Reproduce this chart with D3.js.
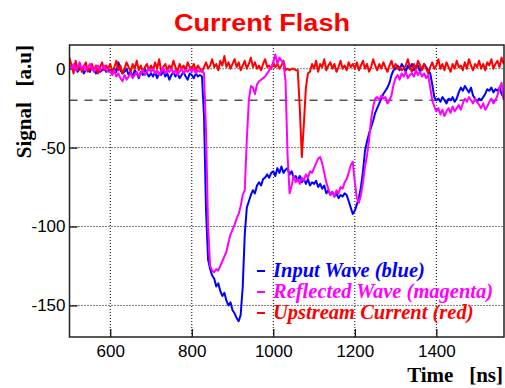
<!DOCTYPE html>
<html>
<head>
<meta charset="utf-8">
<script src="https://cdn.jsdelivr.net/npm/d3@7"></script>
<style>
  body { margin: 0; background: #fff; }
  svg { display: block; }
</style>
</head>
<body>
<div id="chart"></div>
<script>
// sampling of the scope traces (ns)
const tStart = 500, tStep = 5;

const inputWave = [
  0, 2, -1, 1, -2, 0, 1, -3, -1, 0, -2, 1, -1, -3, 0, -2, -1, 1, -2, -1,
  -1, -3, 0, -2, 4, -1, -3, -2, 0, -4, -2, -5, -1, -3, -6, -2, -4, 0, -3, -5,
  -3, -5, -2, -6, -3, -4, -1, -5, -3, -7, -4, -2, -5, -3, -6, -4, -2, -5, -7, -3,
  -4, -6, -3, -5, -4, -5, -30, -90, -121, -127, -131, -133, -138, -136, -141, -144, -142, -147, -150, -148,
  -153, -155, -158, -160, -156, -138, -105, -88, -84, -80, -77, -79, -74, -72, -74, -70, -69, -67, -69, -66,
  -65, -68, -63, -66, -62, -66, -64, -63, -67, -65, -69, -68, -71, -68, -72, -70, -73, -70, -74, -72,
  -73, -71, -75, -73, -76, -74, -79, -77, -80, -78, -81, -79, -82, -80, -81, -79, -80, -84, -88, -92,
  -90, -86, -82, -75, -65, -52, -46, -41, -37, -33, -28, -25, -22, -19, -16, -14, -12, -9, -4, -1,
  0, 2, -1, 3, 1, -2, 2, 0, 3, -1, 1, 2, -2, 0, 3, 1, -1, -3, -10, -18,
  -20, -19, -21, -18, -20, -22, -19, -20, -18, -21, -19, -15, -12, -14, -11, -13, -15, -12, -17, -19,
  -21, -19, -20, -18, -16, -13, -14, -12, -15, -13, -14, -12, -16, -18
];

const reflectedWave = [
  2, 0, 3, -1, 1, 4, 0, 2, -1, 1, 3, 0, -2, 1, 2, -1, 0, 2, -1, -2,
  -2, -4, -1, -5, -3, -6, -8, -4, -7, -5, -3, -6, -4, -2, -5, -3, -1, -4, -2, 0,
  -2, 0, -3, -1, -4, -2, 1, -3, -1, -2, 0, -3, -1, -4, -2, 0, -3, -1, -2, 0,
  -2, 0, -3, -1, -2, -1, -3, -40, -100, -125, -128, -129, -127, -128, -125, -122, -119, -116, -110, -105,
  -102, -99, -95, -92, -87, -80, -77, -45, -20, -11, -12, -16, -10, -8, -7, -6, -5, -3, -1, 1,
  4, 9, 3, 7, 5, 4, -8, -55, -79, -74, -68, -72, -70, -73, -69, -71, -67, -69, -65, -66,
  -63, -60, -57, -56, -60, -66, -72, -76, -80, -78, -81, -77, -79, -75, -76, -72, -70, -66, -61, -59,
  -72, -82, -85, -80, -72, -62, -55, -45, -32, -24, -19, -18, -20, -17, -19, -18, -22, -20, -17, -10,
  -6, -4, -7, -3, -5, -2, -6, -4, -3, -5, -1, -4, -2, -5, -3, -6, -4, -12, -20, -24,
  -27, -25, -29, -26, -30, -27, -25, -28, -24, -27, -25, -23, -26, -22, -19, -21, -18, -20, -22, -19,
  -21, -23, -25, -22, -26, -24, -21, -19, -22, -20, -17, -12, -9, -20
];

const upstreamCurrent = [
  7, 2, -3, 5, -1, 3, -2, 1, 4, -2, 0, 3, -1, 2, -3, 1, 4, -1, 2, 0,
  3, -2, 1, 5, -1, 2, -3, 0, 4, 1, -2, 3, 0, 5, -1, 2, -2, 1, 3, -1,
  2, -1, 4, 0, 6, -2, 1, 3, -1, 2, 0, 5, 1, -2, 3, 0, 2, -1, 4, 1,
  0, 3, -1, 2, 0, -2, 1, 4, 0, 2, 6, 1, 3, -1, 5, 2, 8, 1, 4, 0,
  3, 6, 1, 4, -1, 2, 5, 0, 3, 7, 1, 4, 0, 2, -1, 3, 6, 1, 2, 0,
  4, 1, 3, 0, 2, 5, -1, 0, -1, 0, 0, -1, -1, -25, -56, -35, -12, -3, -2, 3,
  0, 5, -2, 3, 1, 6, -1, 2, 4, 0, 3, -2, 1, 5, 0, 2, -1, 4, 1, 3,
  0, 4, -1, 2, 5, 0, 3, -2, 1, 6, 2, -1, 3, 0, 4, 1, -2, 2, 5, 0,
  3, 0, 1, -1, 0, 2, 6, 1, -2, 3, 0, 5, 2, -1, 3, 0, -3, 1, 4, 0,
  2, 6, 0, 3, -1, 4, 1, -2, 3, 0, 5, 1, 2, -1, 4, 0, 6, 2, -1, 3,
  1, 5, 0, 3, -1, 4, 2, 6, 0, 3, 5, 1, 7, 3
];

const xTicks = [600, 800, 1000, 1200, 1400];
const yTicks = [0, -50, -100, -150];
const threshold = -20;
const seriesNames = ["Input Wave (blue)", "Reflected Wave (magenta)", "Upstream Current (red)"];
const seriesColors = ["#0000ff", "#ff00ff", "#ff0000"];

const width = 505, height = 388;
const margin = {top: 45, right: 1, bottom: 51, left: 69.5};
const innerW = width - margin.left - margin.right;
const innerH = height - margin.top - margin.bottom;

const svg = d3.select("#chart").append("svg")
  .attr("width", width)
  .attr("height", height);

const g = svg.append("g")
  .attr("transform", "translate(" + margin.left + "," + margin.top + ")");

const x = d3.scaleLinear().domain([500, 1566]).range([0, innerW]);
const y = d3.scaleLinear().domain([-170, 15]).range([innerH, 0]);

// dotted grid
g.selectAll(".gx").data(xTicks).enter().append("line")
  .attr("x1", d => x(d)).attr("x2", d => x(d))
  .attr("y1", 0).attr("y2", innerH)
  .attr("stroke", "#000").attr("stroke-width", 1)
  .attr("stroke-dasharray", "1,2");
g.selectAll(".gy").data(yTicks).enter().append("line")
  .attr("x1", 0).attr("x2", innerW)
  .attr("y1", d => y(d)).attr("y2", d => y(d))
  .attr("stroke", "#000").attr("stroke-width", 1)
  .attr("stroke-dasharray", "1,2");

// axes, ticks pointing inside, plain hyphen minus
const fmt = d => String(d);
const xAxis = g.append("g")
  .attr("transform", "translate(0," + innerH + ")")
  .call(d3.axisBottom(x).tickValues(xTicks).tickFormat(fmt).tickSize(-8).tickPadding(8));
const yAxis = g.append("g")
  .call(d3.axisLeft(y).tickValues(yTicks).tickFormat(fmt).tickSize(-8).tickPadding(4));

[xAxis, yAxis].forEach(a => {
  a.select(".domain").remove();
  a.selectAll(".tick line").attr("stroke", "#000").attr("stroke-width", 1.2);
  a.selectAll("text")
    .attr("fill", "#000")
    .style("font-family", "'Liberation Sans', Arial, sans-serif")
    .style("font-size", "17px");
});

// threshold line
g.append("line")
  .attr("x1", 0).attr("x2", innerW)
  .attr("y1", y(threshold)).attr("y2", y(threshold))
  .attr("stroke", "#555").attr("stroke-width", 1.6)
  .attr("stroke-dasharray", "8,7");

g.append("clipPath").attr("id", "clip")
  .append("rect").attr("width", innerW).attr("height", innerH);

const line = d3.line()
  .x((d, i) => x(tStart + i * tStep))
  .y(d => y(d));

const series = [inputWave, upstreamCurrent, reflectedWave];
const colors = [seriesColors[0], seriesColors[2], seriesColors[1]];

g.append("g").attr("clip-path", "url(#clip)")
  .selectAll("path").data(series).enter().append("path")
  .attr("d", d => line(d))
  .attr("fill", "none")
  .attr("stroke", (d, i) => colors[i])
  .attr("stroke-width", 2)
  .attr("stroke-linejoin", "round");

// frame
g.append("rect")
  .attr("width", innerW).attr("height", innerH)
  .attr("fill", "none").attr("stroke", "#222").attr("stroke-width", 1.5);

// legend
const legend = svg.append("g").attr("transform", "translate(257,277)");
const rows = legend.selectAll("g").data(seriesNames).enter().append("g")
  .attr("transform", (d, i) => "translate(0," + i * 21 + ")");
rows.append("line")
  .attr("x1", 0).attr("x2", 8).attr("y1", -6).attr("y2", -6)
  .attr("stroke", (d, i) => seriesColors[i]).attr("stroke-width", 2);
rows.append("text")
  .attr("x", 16)
  .attr("fill", (d, i) => seriesColors[i])
  .style("font-family", "'Liberation Serif', 'Times New Roman', serif")
  .style("font-weight", "bold")
  .style("font-style", "italic")
  .style("font-size", "20.5px")
  .text(d => d);

// title and axis titles
svg.append("text")
  .attr("x", 262).attr("y", 31)
  .attr("text-anchor", "middle")
  .attr("textLength", 176).attr("lengthAdjust", "spacingAndGlyphs")
  .attr("fill", "#ff0000")
  .style("font-family", "'Liberation Sans', Arial, sans-serif")
  .style("font-weight", "bold")
  .style("font-size", "23px")
  .text("Current Flash");

svg.append("text")
  .attr("x", 503).attr("y", 382)
  .attr("text-anchor", "end")
  .style("font-family", "'Liberation Serif', 'Times New Roman', serif")
  .style("font-weight", "bold")
  .style("font-size", "21px")
  .style("white-space", "pre")
  .text("Time   [ns]");

svg.append("text")
  .attr("transform", "translate(31,45) rotate(-90)")
  .attr("text-anchor", "end")
  .style("font-family", "'Liberation Serif', 'Times New Roman', serif")
  .style("font-weight", "bold")
  .style("font-size", "21px")
  .style("white-space", "pre")
  .text("Signal   [a.u]");
</script>
</body>
</html>
